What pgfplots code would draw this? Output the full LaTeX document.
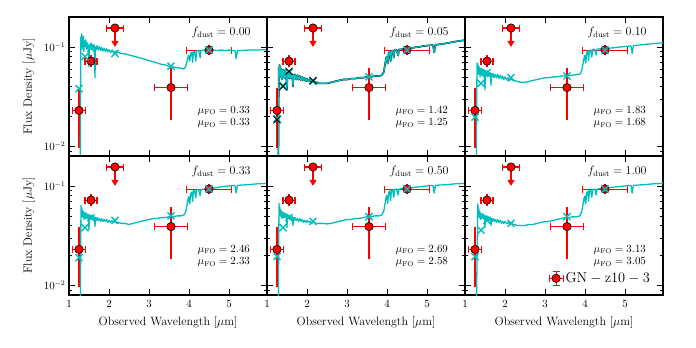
\documentclass[border=0pt]{standalone}
\usepackage{pgfplots}
\pgfplotsset{compat=1.18}
\usepgfplotslibrary{groupplots}
\usetikzlibrary{arrows.meta}
\definecolor{modc}{RGB}{0,190,190}
\definecolor{obsred}{RGB}{255,0,0}

% observed photometry (GN-z10-3)
\pgfplotstableread{
x y xm xp ym yp
1.25 0.023 0.16 0.16 0.0125 0.0127
1.55 0.072 0.15 0.15 0.004 0.004
2.15 0.155 0.21 0.21 0 0
3.55 0.039 0.41 0.41 0.0188 0.0175
4.50 0.093 0.56 0.56 0.004 0.004
}\obs

% model spectra, one per f_dust
\pgfplotstableread{
x y
1.280 0.004
1.295 0.125
1.305 0.105
1.315 0.135
1.325 0.095
1.335 0.120
1.350 0.100
1.360 0.128
1.370 0.090
1.385 0.115
1.400 0.100
1.420 0.118
1.440 0.095
1.460 0.110
1.480 0.098
1.500 0.063
1.510 0.105
1.530 0.097
1.550 0.110
1.570 0.095
1.590 0.106
1.610 0.097
1.630 0.104
1.650 0.049
1.660 0.100
1.680 0.094
1.700 0.103
1.730 0.093
1.760 0.101
1.790 0.092
1.820 0.099
1.850 0.091
1.880 0.097
1.910 0.090
1.940 0.096
1.970 0.089
2.000 0.094
2.040 0.088
2.080 0.093
2.120 0.087
2.160 0.091
2.200 0.087
2.250 0.088
2.300 0.086
2.400 0.085
2.500 0.083
2.600 0.081
2.700 0.079
2.800 0.077
2.900 0.075
3.000 0.073
3.100 0.071
3.200 0.069
3.300 0.067
3.400 0.066
3.500 0.064
3.600 0.063
3.700 0.062
3.800 0.061
3.870 0.060
3.920 0.064
3.960 0.075
3.990 0.082
4.020 0.072
4.040 0.086
4.070 0.088
4.090 0.070
4.110 0.089
4.140 0.090
4.170 0.072
4.190 0.091
4.240 0.092
4.280 0.078
4.300 0.092
4.400 0.093
4.500 0.092
4.600 0.093
4.700 0.092
4.800 0.093
4.900 0.092
5.000 0.093
5.100 0.092
5.150 0.092
5.180 0.076
5.210 0.092
5.300 0.092
5.500 0.093
5.700 0.093
5.950 0.094
}\specA

\pgfplotstableread{
x y
1.280 0.004
1.295 0.062
1.305 0.052
1.315 0.066
1.325 0.050
1.335 0.062
1.350 0.051
1.360 0.060
1.370 0.047
1.385 0.058
1.400 0.050
1.420 0.059
1.440 0.049
1.460 0.057
1.480 0.050
1.500 0.037
1.510 0.055
1.530 0.049
1.550 0.056
1.570 0.048
1.590 0.054
1.610 0.049
1.630 0.053
1.650 0.040
1.660 0.052
1.680 0.048
1.700 0.053
1.730 0.047
1.760 0.052
1.790 0.047
1.820 0.051
1.850 0.046
1.880 0.050
1.910 0.046
1.940 0.049
1.970 0.045
2.000 0.048
2.040 0.045
2.080 0.047
2.120 0.044
2.160 0.046
2.200 0.044
2.250 0.044
2.300 0.043
2.400 0.043
2.500 0.043
2.600 0.044
2.700 0.045
2.800 0.046
2.900 0.047
3.000 0.047
3.100 0.048
3.200 0.048
3.300 0.049
3.400 0.049
3.500 0.050
3.600 0.050
3.700 0.051
3.800 0.051
3.870 0.052
3.920 0.056
3.960 0.070
3.990 0.080
4.020 0.068
4.040 0.086
4.070 0.090
4.090 0.072
4.110 0.091
4.140 0.092
4.170 0.078
4.190 0.093
4.240 0.094
4.280 0.082
4.300 0.094
4.400 0.095
4.500 0.096
4.600 0.097
4.700 0.099
4.800 0.100
4.900 0.102
5.000 0.103
5.100 0.104
5.150 0.104
5.180 0.088
5.210 0.105
5.300 0.106
5.500 0.109
5.700 0.113
5.950 0.117
}\specB

\pgfplotstableread{
x y
1.280 0.004
1.300 0.069
1.310 0.056
1.320 0.068
1.330 0.053
1.340 0.064
1.355 0.054
1.365 0.062
1.375 0.050
1.390 0.060
1.400 0.052
1.420 0.061
1.440 0.051
1.460 0.059
1.480 0.052
1.500 0.037
1.510 0.057
1.530 0.051
1.550 0.058
1.570 0.050
1.590 0.056
1.610 0.051
1.630 0.055
1.650 0.041
1.660 0.054
1.680 0.050
1.700 0.054
1.730 0.049
1.760 0.053
1.790 0.049
1.820 0.053
1.850 0.048
1.880 0.052
1.910 0.048
1.940 0.051
1.970 0.047
2.000 0.050
2.040 0.047
2.080 0.049
2.120 0.046
2.160 0.048
2.200 0.046
2.250 0.046
2.300 0.045
2.400 0.044
2.500 0.044
2.600 0.045
2.700 0.046
2.800 0.047
2.900 0.048
3.000 0.049
3.100 0.049
3.200 0.050
3.300 0.050
3.400 0.051
3.500 0.051
3.600 0.052
3.700 0.052
3.800 0.053
3.870 0.053
3.920 0.058
3.960 0.072
3.990 0.082
4.020 0.069
4.040 0.088
4.070 0.091
4.090 0.073
4.110 0.092
4.140 0.093
4.170 0.079
4.190 0.094
4.240 0.095
4.280 0.083
4.300 0.095
4.400 0.096
4.500 0.096
4.600 0.097
4.700 0.098
4.800 0.099
4.900 0.100
5.000 0.101
5.100 0.102
5.150 0.102
5.180 0.086
5.210 0.103
5.300 0.104
5.500 0.106
5.700 0.108
5.950 0.110
}\specC

\pgfplotstableread{
x y
1.280 0.004
1.300 0.064
1.310 0.052
1.320 0.060
1.330 0.049
1.340 0.056
1.355 0.048
1.365 0.055
1.375 0.046
1.390 0.053
1.400 0.047
1.420 0.054
1.440 0.047
1.460 0.052
1.480 0.047
1.500 0.036
1.510 0.051
1.530 0.046
1.550 0.051
1.570 0.046
1.590 0.050
1.610 0.046
1.630 0.049
1.650 0.039
1.660 0.048
1.680 0.045
1.700 0.048
1.730 0.045
1.760 0.047
1.790 0.044
1.820 0.047
1.850 0.044
1.880 0.046
1.910 0.044
1.940 0.046
1.970 0.043
2.000 0.045
2.040 0.043
2.080 0.045
2.120 0.043
2.160 0.044
2.200 0.042
2.250 0.043
2.300 0.042
2.400 0.042
2.500 0.041
2.600 0.042
2.700 0.043
2.800 0.044
2.900 0.045
3.000 0.046
3.100 0.047
3.200 0.047
3.300 0.048
3.400 0.048
3.500 0.049
3.600 0.049
3.700 0.050
3.800 0.050
3.870 0.051
3.920 0.055
3.960 0.068
3.990 0.078
4.020 0.066
4.040 0.083
4.070 0.087
4.090 0.070
4.110 0.089
4.140 0.090
4.170 0.076
4.190 0.091
4.240 0.092
4.280 0.080
4.300 0.092
4.400 0.093
4.500 0.094
4.600 0.095
4.700 0.096
4.800 0.098
4.900 0.099
5.000 0.100
5.100 0.101
5.150 0.101
5.180 0.085
5.210 0.101
5.300 0.102
5.500 0.103
5.700 0.105
5.950 0.106
}\specD

\pgfplotstableread{
x y
1.280 0.004
1.300 0.067
1.310 0.053
1.320 0.062
1.330 0.050
1.340 0.057
1.355 0.049
1.365 0.056
1.375 0.047
1.390 0.054
1.400 0.048
1.420 0.054
1.440 0.048
1.460 0.053
1.480 0.048
1.500 0.038
1.510 0.052
1.530 0.047
1.550 0.051
1.570 0.046
1.590 0.050
1.610 0.046
1.630 0.049
1.650 0.040
1.660 0.048
1.680 0.045
1.700 0.048
1.730 0.045
1.760 0.047
1.790 0.044
1.820 0.047
1.850 0.044
1.880 0.046
1.910 0.043
1.940 0.045
1.970 0.043
2.000 0.045
2.040 0.043
2.080 0.044
2.120 0.042
2.160 0.044
2.200 0.042
2.250 0.042
2.300 0.042
2.400 0.042
2.500 0.0415
2.600 0.042
2.700 0.043
2.800 0.044
2.900 0.045
3.000 0.046
3.100 0.046
3.200 0.047
3.300 0.047
3.400 0.048
3.500 0.049
3.600 0.049
3.700 0.050
3.800 0.050
3.870 0.051
3.920 0.056
3.960 0.070
3.990 0.080
4.020 0.067
4.040 0.086
4.070 0.089
4.090 0.071
4.110 0.090
4.140 0.091
4.170 0.077
4.190 0.092
4.240 0.093
4.280 0.081
4.300 0.093
4.400 0.094
4.500 0.095
4.600 0.096
4.700 0.097
4.800 0.098
4.900 0.099
5.000 0.100
5.100 0.101
5.150 0.101
5.180 0.085
5.210 0.101
5.300 0.102
5.500 0.103
5.700 0.105
5.950 0.106
}\specE

\pgfplotstableread{
x y
1.280 0.004
1.320 0.066
1.330 0.052
1.340 0.060
1.350 0.049
1.360 0.056
1.370 0.048
1.380 0.054
1.390 0.046
1.400 0.052
1.420 0.047
1.440 0.053
1.460 0.047
1.480 0.051
1.500 0.038
1.510 0.050
1.530 0.046
1.550 0.050
1.570 0.045
1.590 0.049
1.610 0.045
1.630 0.048
1.650 0.040
1.660 0.047
1.680 0.044
1.700 0.047
1.730 0.044
1.760 0.046
1.790 0.043
1.820 0.046
1.850 0.043
1.880 0.045
1.910 0.042
1.940 0.044
1.970 0.042
2.000 0.044
2.040 0.042
2.080 0.043
2.120 0.041
2.160 0.043
2.200 0.041
2.250 0.041
2.300 0.040
2.400 0.040
2.500 0.040
2.600 0.041
2.700 0.041
2.800 0.042
2.900 0.043
3.000 0.0437
3.100 0.044
3.200 0.045
3.300 0.046
3.400 0.047
3.500 0.048
3.600 0.048
3.700 0.049
3.800 0.049
3.870 0.050
3.920 0.055
3.960 0.069
3.990 0.079
4.020 0.066
4.040 0.085
4.070 0.088
4.090 0.070
4.110 0.090
4.140 0.091
4.170 0.077
4.190 0.092
4.240 0.093
4.280 0.081
4.300 0.093
4.400 0.094
4.500 0.095
4.600 0.096
4.700 0.097
4.800 0.098
4.900 0.099
5.000 0.100
5.100 0.101
5.150 0.101
5.180 0.085
5.210 0.101
5.300 0.102
5.500 0.103
5.700 0.105
5.950 0.106
}\specF

% model photometry
\pgfplotstableread{
x y
1.25 0.038
1.40 0.080
1.55 0.097
2.15 0.086
3.55 0.064
4.50 0.093
}\photA
\pgfplotstableread{
x y
1.25 0.019
1.40 0.041
1.55 0.055
2.15 0.045
3.55 0.050
4.50 0.093
}\photB
\pgfplotstableread{
x y
1.25 0.0185
1.40 0.040
1.55 0.057
2.15 0.046
}\photBk
\pgfplotstableread{
x y
1.25 0.0197
1.40 0.043
1.55 0.055
2.15 0.049
3.55 0.051
4.50 0.093
}\photC
\pgfplotstableread{
x y
1.25 0.019
1.40 0.038
1.55 0.048
2.15 0.045
3.55 0.050
4.50 0.093
}\photD
\pgfplotstableread{
x y
1.25 0.0196
1.40 0.038
1.55 0.048
2.15 0.044
3.55 0.049
4.50 0.093
}\photE
\pgfplotstableread{
x y
1.25 0.0195
1.40 0.036
1.55 0.045
2.15 0.042
3.55 0.049
4.50 0.093
}\photF

\pgfplotsset{
  spec/.style={modc, line width=1.3pt, line join=round},
  phot/.style={only marks, mark=x, mark size=5pt, modc, line width=1.4pt},
}

\newcommand{\obsplots}{%
  \addplot[obsred, line width=1.1pt, -{Triangle[width=7pt,length=6pt]}]
    coordinates {(2.15,0.15) (2.15,0.1)};
  \addplot[only marks, mark=none, error bars/.cd, x dir=both, x explicit,
    error mark=|, error bar style={obsred, line width=1.1pt},
    error mark options={obsred, line width=1.1pt, mark size=3.5pt}]
    table[x=x, y=y, x error plus=xp, x error minus=xm] {\obs};
  \addplot[only marks, mark=none, error bars/.cd, y dir=both, y explicit,
    error mark=-, error bar style={obsred, line width=1.1pt},
    error mark options={obsred, line width=1.1pt, mark size=3.5pt}]
    table[x=x, y=y, y error plus=yp, y error minus=ym] {\obs};
  \addplot[only marks, mark=*, mark size=4.2pt,
    mark options={fill=obsred, draw=black, line width=0.6pt}]
    table[x=x, y=y] {\obs};
}
\newcommand{\labels}[3]{%
  \node[anchor=east, font=\large] at (rel axis cs:0.935,0.89) {$f_{\mathrm{dust}} = #1$};
  \node[anchor=east, font=\fontsize{10.5}{12.5}\selectfont, align=right, inner sep=0pt]
    at (rel axis cs:0.915,0.28) {$\mu_{\mathrm{FO}} = #2$\\$\mu_{\mathrm{FO}} = #3$};
}

\begin{document}
\begin{tikzpicture}
\begin{groupplot}[
  group style={group size=3 by 2, horizontal sep=0pt, vertical sep=0pt,
    xticklabels at=edge bottom, yticklabels at=edge left,
    xlabels at=edge bottom, ylabels at=edge left},
  scale only axis, width=198pt, height=139pt,
  xmin=1, xmax=5.95, ymin=0.008, ymax=0.2, ymode=log,
  xtick={1,2,3,4,5},
  xlabel={Observed Wavelength [$\mu$m]},
  ylabel={Flux Density [$\mu$Jy]},
  label style={font=\fontsize{12}{14}\selectfont},
  ylabel shift=2pt, xlabel shift=2pt,
  tick label style={font=\fontsize{10.5}{12}\selectfont},
  xticklabel style={yshift=-2pt},
  axis line style={line width=1.1pt},
  major tick length=6pt, minor tick length=3pt,
  every tick/.style={black, line width=0.7pt},
  tick align=inside,
]
\nextgroupplot
\obsplots
\addplot[spec] table {\specA};
\addplot[phot] table {\photA};
\labels{0.00}{0.33}{0.33}

\nextgroupplot
\obsplots
\addplot[black, line width=1.7pt, line join=round] table {\specB};
\addplot[spec] table {\specB};
\addplot[phot] table {\photB};
\addplot[only marks, mark=x, mark size=5pt, black, line width=0.8pt] table {\photBk};
\labels{0.05}{1.42}{1.25}

\nextgroupplot
\obsplots
\addplot[spec] table {\specC};
\addplot[phot] table {\photC};
\labels{0.10}{1.83}{1.68}

\nextgroupplot
\obsplots
\addplot[spec] table {\specD};
\addplot[phot] table {\photD};
\labels{0.33}{2.46}{2.33}

\nextgroupplot
\obsplots
\addplot[spec] table {\specE};
\addplot[phot] table {\photE};
\labels{0.50}{2.69}{2.58}

\nextgroupplot[
  legend style={at={(0.945,0.12)}, anchor=east, draw=none, fill=none,
    font=\fontsize{13.5}{15}\selectfont, inner sep=0pt},
]
\addlegendimage{legend image code/.code={
  \draw[obsred, line width=1.1pt] (0pt,0pt) -- (14pt,0pt) (7pt,-7pt) -- (7pt,7pt)
    (0pt,-3.5pt) -- (0pt,3.5pt) (14pt,-3.5pt) -- (14pt,3.5pt)
    (3.5pt,-7pt) -- (10.5pt,-7pt) (3.5pt,7pt) -- (10.5pt,7pt);
  \filldraw[fill=obsred, draw=black, line width=0.6pt] (7pt,0pt) circle (4.2pt);
}}
\addlegendentry{$\mathrm{GN-z10-3}$}
\obsplots
\addplot[spec] table {\specF};
\addplot[phot] table {\photF};
\labels{1.00}{3.13}{3.05}
\end{groupplot}
\path ([shift={(-69pt,17pt)}]group c1r1.north west) rectangle ++(696pt,-348pt);
\end{tikzpicture}
\end{document}
